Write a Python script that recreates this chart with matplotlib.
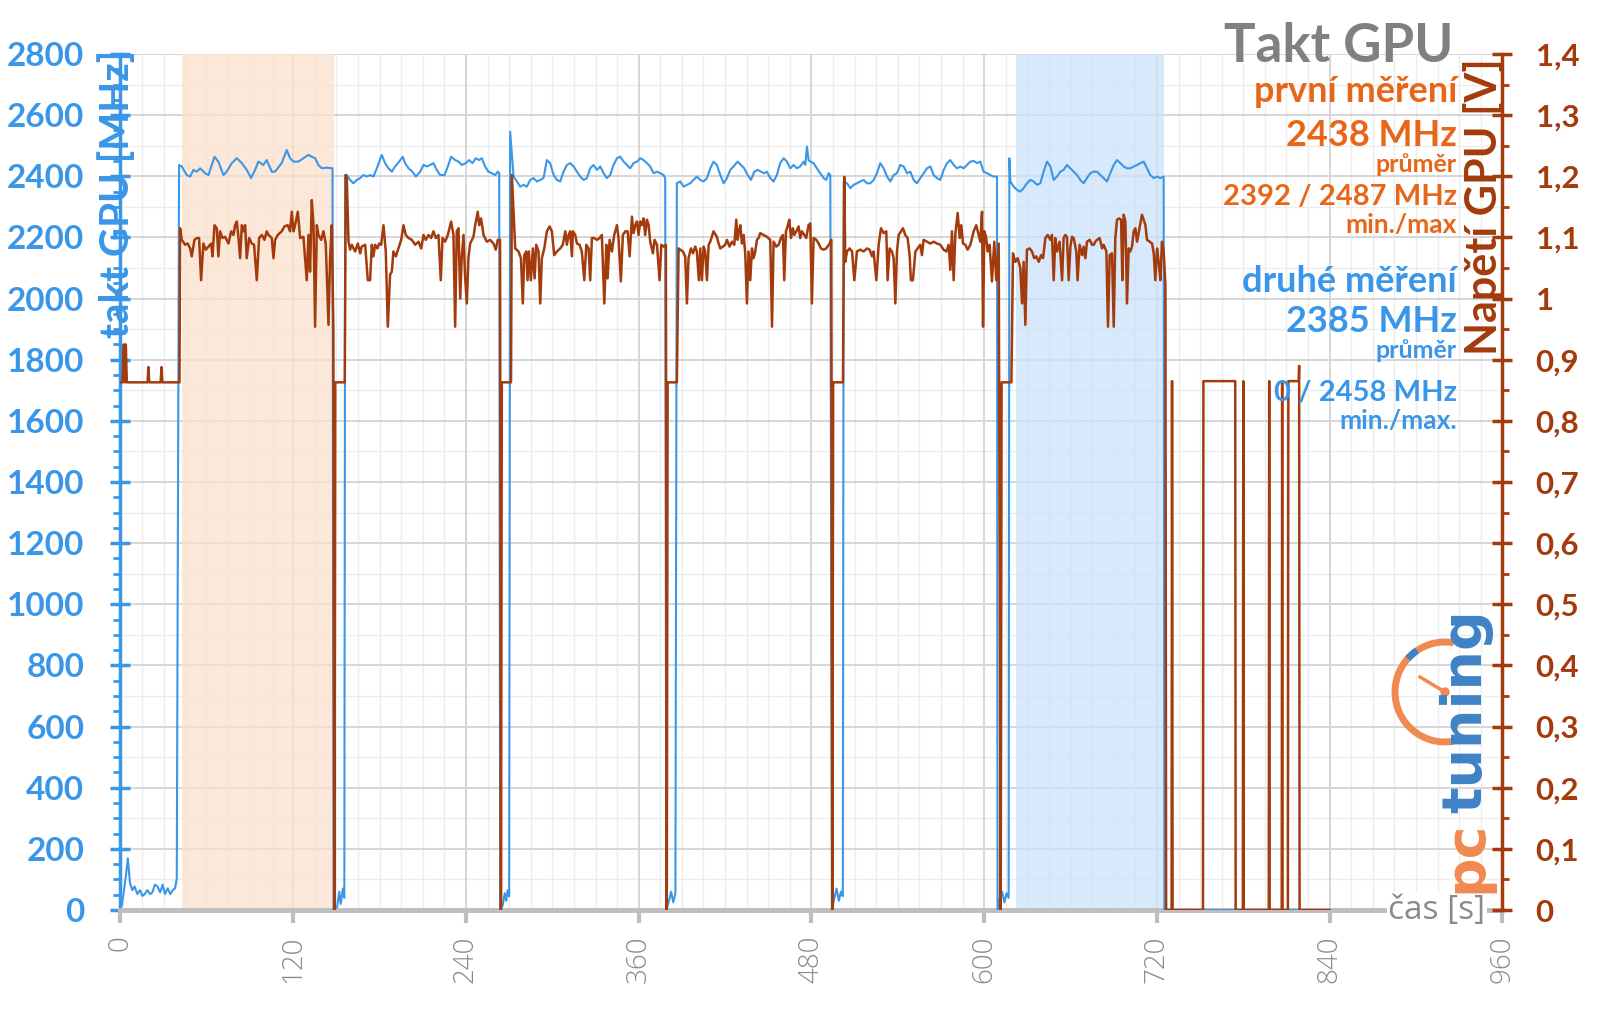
import numpy as np
import matplotlib.pyplot as plt
from matplotlib.patches import Arc, Circle


# ---- hodnoty ----
# takt GPU [MHz], čas [s]
idle_t = [1.0, 3.5, 5.1, 6.6, 8.2, 9.8, 11.7, 13.6, 15.2, 16.8, 18.7, 20.6, 22.2, 23.9, 25.7,
          27.6, 29.3, 30.9, 32.8, 34.6, 36.3, 37.9, 39.1]
idle_mhz = [15, 102, 169, 89, 65, 77, 52, 65, 46, 52, 65, 52, 58, 83, 77, 58, 83, 52, 71, 52,
            65, 71, 102]

run1_t = [40.7, 42.6, 46.0, 48.4, 50.7, 53.0, 55.3, 58.8, 61.1, 65.3, 68.0, 71.5, 73.8, 77.3,
          80.8, 84.3, 87.7, 90.7, 93.5, 95.8, 99.3, 101.6, 105.1, 107.4, 112.0, 115.5, 117.8,
          120.2, 123.6, 127.1, 130.6, 132.9, 135.2, 137.5, 139.8, 143.3, 147.3]
run1_mhz = [2437, 2432, 2404, 2399, 2421, 2415, 2426, 2410, 2404, 2464, 2448, 2404, 2415, 2443,
            2459, 2443, 2421, 2394, 2421, 2448, 2437, 2453, 2415, 2415, 2443, 2486, 2459, 2448,
            2448, 2459, 2470, 2464, 2459, 2437, 2426, 2428, 2426]

run2_t = [156.1, 157.2, 159.5, 161.8, 164.2, 166.5, 168.8, 171.1, 173.4, 175.7, 178.1, 181.5,
          183.8, 186.2, 188.5, 190.8, 193.6, 196.1, 197.7, 200.1, 202.8, 205.2, 208.2, 210.5,
          212.8, 215.1, 217.4, 219.7, 222.1, 225.1, 227.4, 229.7, 232.5, 234.8, 237.1, 239.9,
          242.2, 244.5, 246.8, 249.2, 251.0, 253.3, 255.6, 258.0, 260.3, 262.1, 263.1]
run2_mhz = [2404, 2404, 2388, 2377, 2388, 2394, 2404, 2399, 2404, 2399, 2426, 2470, 2443, 2426,
            2415, 2432, 2448, 2464, 2443, 2426, 2415, 2399, 2415, 2437, 2432, 2437, 2443, 2421,
            2404, 2404, 2432, 2464, 2453, 2448, 2437, 2443, 2453, 2443, 2459, 2453, 2459, 2432,
            2415, 2410, 2404, 2415, 2410]

run3_t = [270.7, 273.1, 275.4, 277.7, 280.0, 282.3, 284.6, 287.0, 289.3, 291.6, 293.9, 296.2,
          298.5, 300.9, 303.2, 305.5, 307.8, 310.1, 312.4, 314.8, 317.1, 319.4, 321.7, 324.0,
          326.3, 328.6, 331.0, 333.3, 335.6, 337.9, 340.2, 342.5, 344.9, 347.2, 349.5, 351.8,
          354.1, 356.4, 358.8, 361.1, 363.4, 365.7, 368.0, 370.3, 372.7, 375.0, 377.3, 378.4]
run3_mhz = [2546, 2399, 2383, 2366, 2372, 2366, 2388, 2394, 2383, 2388, 2394, 2453, 2443, 2404,
            2388, 2383, 2415, 2437, 2443, 2432, 2415, 2399, 2388, 2394, 2426, 2437, 2421, 2432,
            2410, 2394, 2404, 2437, 2459, 2464, 2448, 2437, 2426, 2443, 2448, 2459, 2453, 2443,
            2432, 2410, 2415, 2410, 2404, 2394]

run4_t = [386.5, 388.9, 391.2, 393.5, 395.8, 398.1, 400.4, 402.8, 405.1, 407.4, 409.7, 412.0,
          414.3, 416.7, 419.0, 421.3, 423.6, 425.9, 428.7, 431.0, 433.3, 435.7, 438.0, 440.3,
          442.6, 444.9, 447.2, 449.1, 451.4, 453.7, 456.0, 458.3, 460.7, 463.0, 465.3, 467.6,
          469.9, 472.2, 474.6, 475.7, 476.9, 478.0, 479.2, 481.5, 483.8, 486.1, 488.5, 490.3,
          491.9, 493.1]
run4_mhz = [2377, 2383, 2366, 2372, 2377, 2388, 2399, 2388, 2383, 2394, 2426, 2448, 2437, 2404,
            2377, 2394, 2421, 2432, 2448, 2437, 2426, 2404, 2388, 2415, 2421, 2415, 2410, 2415,
            2394, 2383, 2404, 2443, 2459, 2448, 2426, 2437, 2426, 2432, 2448, 2437, 2497, 2453,
            2448, 2443, 2426, 2410, 2394, 2388, 2410, 2404]

run5_t = [502.4, 504.7, 507.0, 509.3, 511.6, 513.9, 516.3, 518.6, 520.9, 523.2, 525.5, 527.8,
          530.2, 532.5, 534.8, 537.1, 539.4, 541.7, 544.1, 546.4, 548.7, 551.0, 553.3, 555.6,
          558.0, 560.3, 562.6, 564.9, 567.2, 569.5, 571.9, 574.2, 576.5, 578.8, 581.1, 583.4,
          585.7, 588.1, 590.4, 592.7, 595.0, 597.3, 599.6, 602.0, 604.3, 606.6, 608.9]
run5_mhz = [2383, 2377, 2361, 2372, 2377, 2383, 2388, 2377, 2377, 2388, 2410, 2443, 2426, 2399,
            2383, 2404, 2410, 2437, 2432, 2410, 2415, 2388, 2377, 2394, 2410, 2426, 2432, 2404,
            2394, 2388, 2421, 2443, 2453, 2437, 2426, 2432, 2426, 2437, 2448, 2450, 2443, 2448,
            2415, 2410, 2404, 2399, 2399]

run6_t = [617.5, 618.2, 620.5, 622.8, 625.1, 627.4, 629.7, 632.1, 634.4, 636.7, 639.0, 641.3,
          643.6, 646.0, 648.3, 650.6, 652.9, 655.2, 657.5, 659.9, 662.2, 664.5, 666.8, 669.1,
          671.4, 673.7, 676.1, 678.4, 680.7, 683.0, 685.3, 687.6, 690.0, 692.3, 694.6, 696.9,
          699.2, 701.5, 703.9, 706.2, 708.5, 710.8, 713.1, 715.4, 717.8, 720.1, 722.4, 724.7]
run6_mhz = [2459, 2383, 2366, 2355, 2350, 2361, 2377, 2388, 2383, 2372, 2377, 2415, 2448, 2432,
            2388, 2399, 2415, 2421, 2437, 2426, 2415, 2404, 2388, 2377, 2394, 2410, 2415, 2415,
            2404, 2394, 2383, 2410, 2437, 2453, 2443, 2432, 2426, 2426, 2432, 2437, 2443, 2448,
            2426, 2404, 2394, 2399, 2394, 2399]

# pauzy mezi běhy a konec měření
gap_t = [148.0, 150.5, 152.0, 153.0, 154.5, 155.5,
         263.8, 265.5, 267.0, 268.0, 269.0, 270.0,
         379.2, 381.0, 382.5, 384.0, 385.5,
         494.2, 496.0, 497.5, 499.0, 500.5, 501.8,
         609.3, 611.0, 612.5, 614.0, 615.5, 617.0,
         725.2, 820.0]
gap_mhz = [0, 10, 60, 20, 70, 40,
           0, 15, 55, 30, 65, 45,
           0, 30, 60, 25, 55,
           0, 40, 70, 30, 60, 45,
           0, 40, 60, 25, 55, 40,
           0, 0]

# napětí GPU [V]
idle_vt = [0.5, 1.5, 2.3, 3.0, 3.7, 4.4, 18.8, 19.4, 20.0, 27.9, 28.5, 29.1, 41.0]
idle_v = [0.863, 0.863, 0.925, 0.863, 0.925, 0.863, 0.863, 0.888, 0.863, 0.863, 0.888, 0.863,
          0.863]

run1_vt = [41.4, 42.6, 44.9, 46.7, 48.4, 49.5, 51.4, 53.0, 54.6, 56.0, 57.6, 59.3, 61.1, 63.0,
           63.9, 65.3, 66.9, 68.0, 69.2, 70.8, 72.7, 75.0, 76.9, 78.5, 79.6, 80.8, 82.0, 83.1,
           84.3, 85.4, 86.6, 87.7, 89.4, 91.2, 92.8, 94.7, 96.3, 98.2, 100.0, 101.6, 102.8,
           105.1, 106.3, 107.4, 109.3, 112.0, 113.9, 116.2, 117.8, 119.0, 120.2, 121.3, 123.2,
           124.8, 127.1, 129.4, 130.6, 131.7, 132.9, 134.1, 135.2, 136.4, 137.5, 139.4, 141.0,
           142.6, 144.5, 145.6, 146.8, 147.9]
run1_v = [1.115, 1.096, 1.088, 1.090, 1.082, 1.069, 1.096, 1.099, 1.099, 1.030, 1.090, 1.080,
          1.085, 1.090, 1.069, 1.120, 1.115, 1.069, 1.110, 1.099, 1.101, 1.090, 1.110, 1.104,
          1.120, 1.126, 1.099, 1.066, 1.120, 1.110, 1.120, 1.066, 1.099, 1.090, 1.088, 1.030,
          1.099, 1.104, 1.096, 1.110, 1.104, 1.099, 1.066, 1.096, 1.104, 1.110, 1.118, 1.120,
          1.110, 1.142, 1.110, 1.120, 1.142, 1.099, 1.101, 1.030, 1.104, 1.044, 1.161, 1.120,
          0.954, 1.120, 1.104, 1.096, 1.110, 1.090, 0.957, 1.066, 1.120, 0.950]

run2_vt = [156.5, 157.2, 158.4, 159.5, 160.7, 163.0, 164.9, 166.5, 167.6, 170.0, 171.8, 173.4,
           174.6, 175.7, 176.9, 178.5, 179.7, 181.1, 182.7, 184.3, 185.7, 187.3, 188.5, 189.6,
           191.3, 193.1, 195.0, 196.6, 198.2, 200.1, 202.4, 204.7, 207.0, 208.9, 210.5, 212.1,
           214.0, 215.8, 217.4, 219.1, 220.9, 222.5, 223.7, 225.5, 227.4, 229.7, 231.3, 232.5,
           233.6, 234.8, 236.0, 237.1, 238.3, 239.4, 240.6, 241.7, 242.9, 245.2, 246.4, 248.2,
           249.2, 250.5, 252.2, 254.5, 256.8, 259.1, 260.7, 262.1, 263.7]
run2_v = [1.202, 1.199, 1.093, 1.080, 1.088, 1.077, 1.090, 1.074, 1.085, 1.088, 1.030, 1.030,
          1.088, 1.069, 1.088, 1.082, 1.090, 1.088, 1.120, 1.077, 0.954, 1.039, 1.044, 1.077,
          1.069, 1.082, 1.096, 1.120, 1.104, 1.099, 1.096, 1.088, 1.093, 1.082, 1.104, 1.096,
          1.104, 1.099, 1.110, 1.099, 1.104, 1.030, 1.099, 1.093, 1.104, 1.126, 1.104, 0.954,
          1.110, 1.115, 1.000, 1.069, 1.104, 1.036, 0.992, 1.066, 1.090, 1.101, 1.120, 1.142,
          1.120, 1.131, 1.104, 1.093, 1.096, 1.090, 1.080, 1.096, 1.096]

run3_vt = [271.9, 274.2, 276.5, 278.2, 279.5, 280.5, 281.9, 282.8, 283.7, 285.1, 286.5, 287.7,
           288.8, 290.4, 291.6, 292.7, 294.4, 296.2, 298.1, 299.7, 301.3, 303.2, 305.5, 307.3,
           309.0, 310.1, 311.3, 312.4, 313.6, 314.3, 315.9, 317.1, 318.9, 320.5, 322.2, 323.6,
           325.2, 326.3, 327.5, 329.1, 331.0, 332.8, 334.4, 336.1, 337.5, 338.4, 339.8, 341.4,
           343.0, 344.9, 346.0, 347.6, 349.0, 350.7, 352.3, 353.7, 355.3, 356.4, 357.6, 358.8,
           359.9, 361.1, 362.2, 363.4, 364.5, 365.7, 366.9, 368.0, 369.9, 371.0, 372.7, 374.5,
           375.7, 377.3, 378.9]
run3_v = [1.202, 1.082, 1.077, 1.066, 0.992, 1.071, 1.077, 1.030, 1.077, 1.030, 1.082, 1.033,
          1.088, 1.077, 0.992, 1.066, 1.082, 1.110, 1.118, 1.110, 1.071, 1.077, 1.082, 1.088,
          1.110, 1.088, 1.104, 1.110, 1.069, 1.110, 1.104, 1.090, 1.088, 1.077, 1.030, 1.088,
          1.082, 1.030, 1.099, 1.099, 1.096, 1.099, 1.104, 0.992, 1.088, 1.033, 1.096, 1.077,
          1.104, 1.120, 1.099, 1.028, 1.104, 1.110, 1.110, 1.069, 1.134, 1.107, 1.120, 1.126,
          1.104, 1.126, 1.120, 1.131, 1.104, 1.129, 1.120, 1.093, 1.074, 1.096, 1.088, 1.030,
          1.088, 1.085, 1.088]

run4_vt = [387.7, 388.9, 390.7, 392.3, 393.5, 394.6, 396.3, 397.7, 399.3, 400.4, 401.8, 402.8,
           403.9, 405.1, 406.2, 407.4, 408.6, 409.7, 412.0, 414.3, 415.5, 416.7, 418.5, 420.1,
           421.3, 423.1, 424.8, 426.4, 427.8, 428.7, 429.6, 430.6, 431.7, 432.9, 434.0, 435.2,
           436.3, 437.5, 438.7, 439.8, 441.0, 442.1, 443.3, 444.4, 446.8, 449.1, 451.4, 452.6,
           453.7, 455.6, 457.2, 458.8, 460.2, 461.1, 462.3, 463.4, 464.6, 465.8, 467.1, 468.1,
           469.5, 471.1, 472.2, 473.4, 475.0, 476.4, 478.0, 479.2, 480.3, 481.5, 483.4, 485.0,
           486.6, 488.5, 490.3, 492.6, 493.8]
run4_v = [1.082, 1.080, 1.077, 1.069, 0.992, 1.066, 1.082, 1.074, 1.085, 1.077, 1.030, 1.082,
          1.030, 1.085, 1.077, 1.030, 1.088, 1.093, 1.110, 1.101, 1.090, 1.082, 1.085, 1.088,
          1.096, 1.085, 1.093, 1.088, 1.129, 1.096, 1.110, 1.120, 1.090, 1.104, 1.074, 0.992,
          1.077, 1.030, 1.082, 1.066, 1.077, 1.096, 1.099, 1.107, 1.104, 1.101, 1.096, 0.954,
          1.093, 1.085, 1.088, 1.099, 1.104, 1.030, 1.110, 1.118, 1.129, 1.099, 1.115, 1.104,
          1.110, 1.118, 1.099, 1.110, 1.104, 1.099, 1.120, 1.123, 0.992, 1.099, 1.096, 1.090,
          1.082, 1.080, 1.082, 1.090, 1.096]

run5_vt = [502.8, 503.5, 504.7, 506.5, 508.2, 509.8, 511.6, 513.9, 516.3, 518.6, 520.4, 522.1,
           523.2, 525.1, 526.7, 528.3, 530.2, 532.0, 532.9, 534.3, 535.9, 537.1, 538.3, 539.4,
           540.6, 542.2, 543.6, 545.2, 546.8, 548.2, 549.1, 550.5, 552.2, 553.8, 555.6, 556.8,
           557.9, 560.3, 562.6, 564.9, 567.2, 569.5, 571.8, 573.7, 575.3, 576.5, 577.6, 578.8,
           580.0, 581.6, 583.0, 584.1, 585.3, 586.9, 588.5, 590.4, 592.7, 594.5, 596.2, 597.3,
           598.5, 599.2, 600.1, 601.3, 602.4, 603.8, 605.4, 607.0, 608.4, 610.1]
run5_v = [1.199, 1.060, 1.077, 1.082, 1.077, 1.030, 1.077, 1.080, 1.077, 1.082, 1.080, 1.069,
          1.077, 1.030, 1.088, 1.115, 1.107, 1.110, 1.030, 1.082, 1.077, 1.066, 0.992, 1.077,
          1.104, 1.110, 1.115, 1.104, 1.099, 1.071, 1.030, 1.030, 1.077, 1.082, 1.088, 1.071,
          1.096, 1.093, 1.090, 1.093, 1.090, 1.088, 1.080, 1.077, 1.088, 1.047, 1.110, 1.030,
          1.107, 1.140, 1.099, 1.120, 1.090, 1.088, 1.080, 1.088, 1.110, 1.120, 1.104, 1.093,
          1.142, 0.954, 1.110, 1.101, 1.077, 1.088, 1.028, 1.093, 1.030, 1.090]

run6_vt = [620.0, 621.6, 623.3, 625.1, 626.3, 627.4, 628.6, 629.7, 631.6, 633.2, 634.8, 636.2,
           637.9, 639.5, 640.9, 642.5, 644.1, 646.0, 647.1, 648.3, 649.4, 650.6, 652.4, 654.1,
           655.2, 656.4, 657.5, 658.7, 659.9, 661.0, 662.2, 664.0, 664.9, 666.3, 668.0, 669.1,
           670.3, 671.4, 673.3, 674.9, 676.1, 677.2, 678.4, 680.2, 681.9, 683.0, 684.9, 686.0,
           687.2, 688.8, 690.0, 691.1, 692.3, 693.7, 695.1, 696.0, 696.9, 698.1, 699.2, 700.4,
           701.5, 702.7, 703.9, 705.0, 706.2, 707.3, 708.5, 709.6, 710.8, 712.0, 713.1, 715.0,
           716.6, 717.8, 718.9, 720.1, 721.2, 722.4, 723.5, 724.7, 725.9]
run6_v = [1.074, 1.060, 1.066, 1.050, 0.992, 1.060, 0.957, 1.080, 1.082, 1.077, 1.066, 1.069,
          1.060, 1.071, 1.066, 1.099, 1.104, 1.096, 1.104, 1.030, 1.099, 1.077, 1.093, 1.030,
          1.099, 1.104, 1.101, 1.030, 1.085, 1.101, 1.099, 1.077, 1.030, 1.088, 1.071, 1.085,
          1.066, 1.093, 1.096, 1.088, 1.088, 1.093, 1.096, 1.099, 1.082, 1.088, 1.077, 0.954,
          1.071, 1.074, 0.954, 1.099, 1.129, 1.131, 1.129, 1.030, 1.137, 1.126, 0.992, 1.082,
          1.077, 1.085, 1.110, 1.115, 1.093, 1.107, 1.123, 1.137, 1.129, 1.120, 1.096, 1.093,
          1.090, 1.074, 1.030, 1.082, 1.060, 1.030, 1.093, 1.077, 1.022]

gap_vt = [148.6, 149.2, 155.8,
          264.3, 264.9, 271.3,
          379.5, 380.1, 386.5,
          494.5, 495.1, 501.9,
          611.5, 612.1, 618.9,
          726.4, 730.2, 730.5, 730.9, 752.0, 752.3, 774.4, 774.7, 779.7, 780.0, 780.3,
          797.7, 798.0, 798.3, 806.7, 807.0, 807.3, 811.0, 811.3, 818.5, 818.8, 819.1, 840.0]
gap_v = [0, 0.863, 0.863,
         0, 0.863, 0.863,
         0, 0.863, 0.863,
         0, 0.863, 0.863,
         0, 0.863, 0.863,
         0, 0, 0.865, 0, 0, 0.865, 0.865, 0, 0, 0.865, 0,
         0, 0.865, 0, 0, 0.865, 0, 0, 0.865, 0.865, 0.89, 0, 0]

# vyznačené úseky (první a druhé měření)
first_span = (42.5, 148.2)
second_span = (621.9, 724.7)

x_ticks = [0, 120, 240, 360, 480, 600, 720, 840, 960]
mhz_ticks = [0, 200, 400, 600, 800, 1000, 1200, 1400, 1600, 1800, 2000, 2200, 2400, 2600, 2800]
volt_ticks = [0, 0.1, 0.2, 0.3, 0.4, 0.5, 0.6, 0.7, 0.8, 0.9, 1.0, 1.1, 1.2, 1.3, 1.4]
volt_labels = ['0', '0,1', '0,2', '0,3', '0,4', '0,5', '0,6', '0,7', '0,8', '0,9', '1',
               '1,1', '1,2', '1,3', '1,4']


BLUE = '#3A96E8'
BROWN = '#A33B0C'
ORANGE = '#E8661A'
GRAY = '#8A8A8A'
FONT = 'Lato'

clk_t = np.concatenate([idle_t, run1_t, run2_t, run3_t, run4_t, run5_t, run6_t, gap_t])
clk = np.concatenate([idle_mhz, run1_mhz, run2_mhz, run3_mhz, run4_mhz, run5_mhz, run6_mhz, gap_mhz])
o = np.argsort(clk_t, kind='stable')
clk_t, clk = clk_t[o], clk[o]

volt_t = np.concatenate([idle_vt, run1_vt, run2_vt, run3_vt, run4_vt, run5_vt, run6_vt, gap_vt])
volt = np.concatenate([idle_v, run1_v, run2_v, run3_v, run4_v, run5_v, run6_v, gap_v])
o = np.argsort(volt_t, kind='stable')
volt_t, volt = volt_t[o], volt[o]


fig = plt.figure(figsize=(16, 10.09), dpi=100)
ax = fig.add_axes([0.0753, 0.0981, 0.8637, 0.8484])
ax.set_xlim(0, 960)
ax.set_ylim(0, 2800)
ax.set_axisbelow(True)

# mřížka
ax.set_xticks(x_ticks)
ax.set_xticks(np.arange(0, 961, 15), minor=True)
ax.grid(which='major', axis='x', color='#D6D6D6', lw=1.4)
ax.grid(which='minor', axis='x', color='#EDEDED', lw=1.0)
ax.grid(which='major', axis='y', color='#D6D6D6', lw=1.4)
ax.hlines(np.arange(100, 2800, 200), 0, 960, colors='#EDEDED', lw=1.0, zorder=0.4)

# podbarvení úseků
ax.axvspan(*first_span, color='#FCE1CB', alpha=0.75, lw=0, zorder=0.6)
ax.axvspan(*second_span, color='#CBE2FA', alpha=0.75, lw=0, zorder=0.6)

ax.plot(clk_t, clk, color=BLUE, lw=1.5, zorder=3)

ax2 = ax.twinx()
ax2.set_ylim(0, 1.4)
ax2.plot(volt_t, volt, color=BROWN, lw=1.8, zorder=3)

# osy
for s in ['top', 'right']:
    ax.spines[s].set_visible(False)
ax.spines['left'].set_color(BLUE)
ax.spines['left'].set_linewidth(2.5)
ax.spines['bottom'].set_color('#BEBEBE')
ax.spines['bottom'].set_linewidth(3.5)
for s in ['top', 'left', 'bottom']:
    ax2.spines[s].set_visible(False)
ax2.spines['right'].set_color(BROWN)
ax2.spines['right'].set_linewidth(2.5)

ax.set_yticks(mhz_ticks)
ax.set_yticklabels([str(v) for v in mhz_ticks], color=BLUE, fontsize=24,
                   fontweight='bold', family=FONT)
ax.set_yticks(np.arange(0, 2801, 50), minor=True)
ax.tick_params(axis='y', which='major', direction='inout', length=14, width=2.5,
               color=BLUE, pad=19)
ax.tick_params(axis='y', which='minor', direction='out', length=5, width=2, color=BLUE)

ax.set_xticklabels([str(v) for v in x_ticks], rotation=90, color=GRAY, fontsize=20,
                   family='Open Sans', fontweight='light')
ax.tick_params(axis='x', which='major', direction='out', length=9.5, width=3,
               color='#BEBEBE', pad=9)
ax.tick_params(axis='x', which='minor', length=0)

ax2.set_yticks(volt_ticks)
ax2.set_yticklabels(volt_labels, color=BROWN, fontsize=22.5, fontweight='bold', family=FONT)
ax2.set_yticks(np.arange(0, 1.401, 0.05), minor=True)
ax2.tick_params(axis='y', which='major', direction='inout', length=14, width=2.5,
                color=BROWN, pad=17)
ax2.tick_params(axis='y', which='minor', direction='out', length=5, width=2, color=BROWN)

# popisky a logo v pixelech obrázku
lay = fig.add_axes([0, 0, 1, 1], zorder=5)
lay.set_xlim(0, 1600)
lay.set_ylim(1009, 0)
lay.axis('off')

lay.text(117, 194, 'takt GPU [MHz]', rotation=90, ha='center', va='center', color=BLUE,
         fontsize=29, fontweight='bold', family=FONT)
lay.text(1483, 207, 'Napětí GPU [V]', rotation=90, ha='center', va='center', color=BROWN,
         fontsize=31, fontweight='bold', family=FONT)
lay.text(1437, 910, 'čas [s]', ha='center', va='center', color=GRAY, fontsize=24,
         family='Open Sans', bbox=dict(fc='white', ec='none', pad=1))

lay.text(1453, 46, 'Takt GPU', ha='right', va='center', color='#808080', fontsize=38,
         fontweight='bold', family=FONT)
notes = [
    ('první měření', 92, 26, ORANGE),
    ('2438 MHz', 135, 26, ORANGE),
    ('průměr', 164, 18, ORANGE),
    ('2392 / 2487 MHz', 197, 21, ORANGE),
    ('min./max', 225, 19, ORANGE),
    ('druhé měření', 281, 26, BLUE),
    ('2385 MHz', 322, 26, BLUE),
    ('průměr', 351, 18, BLUE),
    ('0 / 2458 MHz', 393, 21, BLUE),
    ('min./max.', 421, 19, BLUE),
]
for txt, y, size, col in notes:
    lay.text(1457, y, txt, ha='right', va='center', color=col, fontsize=size,
             fontweight='bold', family=FONT)

# logo pctuning
lay.text(1466, 857, 'pc', rotation=90, ha='center', va='center', color='#F08A50',
         fontsize=40, fontweight='bold', family='DejaVu Sans')
lay.text(1466, 711, 'tuning', rotation=90, ha='center', va='center', color='#3E82C6',
         fontsize=40, fontweight='bold', family='DejaVu Sans')
lay.add_patch(Arc((1445, 692), 100, 100, theta1=80, theta2=280, color='#F08A50', lw=5))
lay.add_patch(Arc((1445, 692), 100, 100, theta1=222, theta2=236, color='#3E82C6', lw=5))
lay.plot([1445, 1420], [692, 677], color='#F08A50', lw=2.5)
lay.add_patch(Circle((1445, 692), 4, color='#F08A50'))

fig.savefig('out.png', dpi=100)
